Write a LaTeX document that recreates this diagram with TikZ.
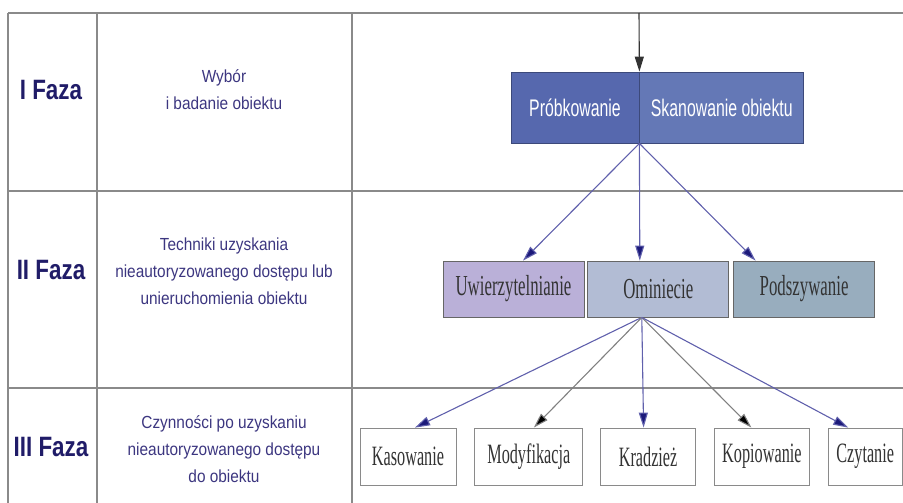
\documentclass[tikz,border=0pt]{standalone}
\usepackage{fontspec}
\setmainfont{Liberation Sans}
\newfontfamily\fazafont[FakeStretch=0.8]{Liberation Sans}
\newfontfamily\opisfont[FakeStretch=0.88]{Liberation Sans}
\newfontfamily\skanfont[FakeStretch=0.66]{Liberation Sans}
\newfontfamily\boxfont[FakeStretch=0.58]{Liberation Serif}
\usetikzlibrary{arrows.meta}
\usetikzlibrary{positioning}
\usetikzlibrary{calc}

\definecolor{linia}{RGB}{138,138,138}
\definecolor{granat}{RGB}{32,28,104}
\definecolor{opis}{RGB}{60,54,128}
\definecolor{skanL}{RGB}{86,104,174}
\definecolor{skanR}{RGB}{100,120,182}
\definecolor{uwierzC}{RGB}{186,176,216}
\definecolor{ominC}{RGB}{178,188,212}
\definecolor{podszC}{RGB}{152,173,190}
\definecolor{strzalka}{RGB}{96,96,172}
\definecolor{grot}{RGB}{28,26,122}

\begin{document}
\begin{tikzpicture}[x=1pt,y=-1pt,
	faza/.style={font=\fazafont\bfseries\fontsize{28}{30}\selectfont,text=granat},
	opisfazy/.style={align=center,font=\opisfont\fontsize{17.5}{27}\selectfont,text=opis},
	skanbox/.style={draw=skanL!70!black,line width=0.8pt,minimum height=71pt,inner sep=0pt,
		text=white,font=\skanfont\fontsize{24}{26}\selectfont},
	technika/.style={draw=gray!80!black,line width=0.8pt,minimum width=141pt,minimum height=56pt,
		inner sep=0pt,font=\boxfont\fontsize{29}{30}\selectfont,text=black!80},
	czynnosc/.style={draw=linia,line width=0.8pt,fill=white,minimum height=57pt,
		inner sep=0pt,font=\boxfont\fontsize{28}{30}\selectfont,text=black!80},
	tabela/.style={draw=linia,line width=1.4pt},
	niebieska/.style={draw=strzalka,line width=1.1pt,-{Triangle[length=15pt,width=9pt,fill=grot]}},
	szara/.style={draw=gray,line width=1.1pt,-{Triangle[length=15pt,width=9pt,fill=black]}}]
	\useasboundingbox (0,0) rectangle (903,503);

	%TABLE
	\draw[tabela] (8,13) -- (903,13);
	\draw[tabela] (8,191) -- (903,191);
	\draw[tabela] (8,388) -- (903,388);
	\draw[tabela] (8,13) -- (8,503);
	\draw[tabela] (97,13) -- (97,503);
	\draw[tabela] (352,13) -- (352,503);

	%PHASE LABELS
	\node [faza] (f1) at (51,90) {I Faza};
	\node [faza] (f2) at (51,270) {II Faza};
	\node [faza] (f3) at (51,447) {III Faza};
	\node [opisfazy] (o1) at (224,90) {Wybór\\i badanie obiektu};
	\node [opisfazy] (o2) at (224,271) {Techniki uzyskania\\nieautoryzowanego dostępu lub\\unieruchomienia obiektu};
	\node [opisfazy] (o3) at (224,449) {Czynności po uzyskaniu\\nieautoryzowanego dostępu\\do obiektu};

	%LEVEL 1
	\node [skanbox,fill=skanL,minimum width=128pt] (probk) at (575,107.5) {Próbkowanie};
	\node [skanbox,fill=skanR,minimum width=164pt,right=0pt of probk] (skan) {Skanowanie obiektu};
	\coordinate (wejscie) at (639,13);
	\draw[line width=1.1pt,draw=black!80,-{Triangle[length=15pt,width=9pt]}] (wejscie) -- (probk.north east);

	%LEVEL 2
	\node [technika,fill=uwierzC] (uwierz) at (513.5,289) {Uwierzytelnianie};
	\node [technika,fill=ominC,right=3pt of uwierz] (omin) {Ominiecie};
	\node [technika,fill=podszC,right=4pt of omin] (podsz) {Podszywanie};
	\draw[niebieska] (probk.south east) -- ([xshift=9.5pt]uwierz.north);
	\draw[niebieska] (probk.south east) -- ([xshift=-18.5pt]omin.north);
	\draw[niebieska] (probk.south east) -- ([xshift=-48.5pt]podsz.north);

	%LEVEL 3
	\node [czynnosc,minimum width=96pt] (kas) at (408,456.5) {Kasowanie};
	\node [czynnosc,minimum width=108pt,right=18pt of kas] (mod) {Modyfikacja};
	\node [czynnosc,minimum width=95pt,right=17pt of mod] (krad) {Kradzież};
	\node [czynnosc,minimum width=95pt,right=18pt of krad] (kop) {Kopiowanie};
	\node [czynnosc,minimum width=74pt,right=18pt of kop] (czyt) {Czytanie};
	\coordinate (hub) at ([xshift=-16.5pt]omin.south);
	\draw[niebieska] (hub) -- ([xshift=7pt]kas.north);
	\draw[szara] (hub) -- ([xshift=5pt]mod.north);
	\draw[niebieska] (hub) -- ([xshift=-4.5pt]krad.north);
	\draw[szara] (hub) -- ([xshift=-10.5pt]kop.north);
	\draw[niebieska] (hub) -- ([xshift=-17pt]czyt.north);
\end{tikzpicture}
\end{document}
